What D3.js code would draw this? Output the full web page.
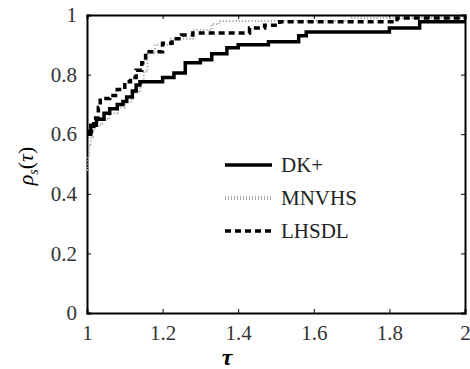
<!DOCTYPE html>
<html><head><meta charset="utf-8">
<script src="https://cdn.jsdelivr.net/npm/d3@7"></script>
</head><body style="margin:0;background:#fff;font-family:'Liberation Serif'">
<svg id="c" width="470" height="369" font-family="Liberation Serif" style="font-family:'Liberation Serif'"></svg>
<script>
const xTicks = [1, 1.2, 1.4, 1.6, 1.8, 2];
const yTicks = [0, 0.2, 0.4, 0.6, 0.8, 1];
const seriesNames = ["DK+", "MNVHS", "LHSDL"];
const dkTau = [1, 1.01, 1.025, 1.045, 1.06, 1.08, 1.095, 1.105, 1.12, 1.13, 1.14, 1.2, 1.23, 1.26, 1.3, 1.33, 1.37, 1.4, 1.48, 1.56, 1.58, 1.8, 1.88, 2];
const dkRho = [0.6, 0.63, 0.65, 0.67, 0.685, 0.70, 0.71, 0.725, 0.745, 0.765, 0.776, 0.79, 0.805, 0.84, 0.85, 0.87, 0.89, 0.9, 0.91, 0.93, 0.943, 0.956, 0.977, 0.977];
const mnTau = [1, 1.003, 1.006, 1.01, 1.015, 1.02, 1.04, 1.06, 1.08, 1.1, 1.12, 1.14, 1.15, 1.16, 1.18, 1.22, 1.28, 1.33, 1.35, 1.7, 2];
const mnRho = [0.48, 0.52, 0.56, 0.59, 0.61, 0.63, 0.65, 0.67, 0.69, 0.71, 0.74, 0.77, 0.81, 0.87, 0.9, 0.92, 0.95, 0.97, 0.98, 0.99, 0.99];
const lhTau = [1, 1.018, 1.03, 1.035, 1.06, 1.08, 1.1, 1.115, 1.13, 1.145, 1.155, 1.2, 1.225, 1.25, 1.28, 1.43, 1.47, 1.51, 1.82, 2];
const lhRho = [0.61, 0.654, 0.69, 0.72, 0.73, 0.75, 0.776, 0.79, 0.815, 0.84, 0.877, 0.905, 0.92, 0.933, 0.94, 0.956, 0.966, 0.977, 0.99, 0.99];

const FONT = "Liberation Serif";
const svg = d3.select("#c");
const L = 87, R = 465, T = 15, B = 313;
const x = d3.scaleLinear().domain([1, 2]).range([L, R]);
const y = d3.scaleLinear().domain([0, 1]).range([B, T]);

const axB = svg.append("g").attr("transform", `translate(0,${B})`).call(d3.axisBottom(x).tickValues(xTicks).tickSize(-4).tickPadding(12).tickFormat(d3.format("")));
const axT = svg.append("g").attr("transform", `translate(0,${T})`).call(d3.axisTop(x).tickValues(xTicks).tickSize(-4).tickFormat(""));
const axL = svg.append("g").attr("transform", `translate(${L},0)`).call(d3.axisLeft(y).tickValues(yTicks).tickSize(-4).tickPadding(10).tickFormat(d3.format("")));
const axR = svg.append("g").attr("transform", `translate(${R},0)`).call(d3.axisRight(y).tickValues(yTicks).tickSize(-4).tickFormat(""));
[axB, axT, axL, axR].forEach(g => {
  g.attr("font-family", FONT).attr("font-size", 21);
  g.select(".domain").attr("stroke", "#000").attr("stroke-width", 2);
  g.selectAll(".tick line").attr("stroke", "#000").attr("stroke-width", 1);
  g.selectAll("text").attr("font-family", FONT).attr("fill", "#333");
});

const line = d3.line().x(d => x(d[0])).y(d => y(d[1])).curve(d3.curveStepAfter);
const zip = (a, b) => a.map((v, i) => [v, b[i]]);
const styles = [
  {stroke: "#000", width: 3.5, dash: null},
  {stroke: "#a8a8a8", width: 2, dash: "1.2,2"},
  {stroke: "#000", width: 3.5, dash: "6,4"}
];
const data = [zip(dkTau, dkRho), zip(mnTau, mnRho), zip(lhTau, lhRho)];
[1, 0, 2].forEach(i => {
  svg.append("path").attr("d", line(data[i])).attr("fill", "none")
    .attr("stroke", styles[i].stroke).attr("stroke-width", styles[i].width)
    .attr("stroke-dasharray", styles[i].dash);
});

const legY = [165, 198, 231];
seriesNames.forEach((n, i) => {
  svg.append("line").attr("x1", 225).attr("x2", 272).attr("y1", legY[i]).attr("y2", legY[i])
    .attr("stroke", styles[i].stroke).attr("stroke-width", i === 1 ? 4 : styles[i].width)
    .attr("stroke-dasharray", i === 1 ? "1,2" : styles[i].dash);
  svg.append("text").attr("x", 281).attr("y", legY[i] + 7).attr("font-family", FONT).attr("font-size", 21).attr("fill", "#222").text(n);
});

svg.append("text").attr("x", 227).attr("y", 365).attr("text-anchor", "middle").attr("font-family", FONT)
  .attr("font-size", 24).attr("font-style", "italic").attr("font-weight", "bold").text("τ");
svg.append("text").attr("transform", "translate(33,166) rotate(-90)").attr("text-anchor", "middle")
  .attr("font-family", FONT).attr("font-size", 22).attr("font-style", "italic")
  .html('ρ<tspan font-size="14" dy="5">s</tspan><tspan dy="-5" font-style="normal">(</tspan>τ<tspan font-style="normal">)</tspan>');
</script>
</body></html>
